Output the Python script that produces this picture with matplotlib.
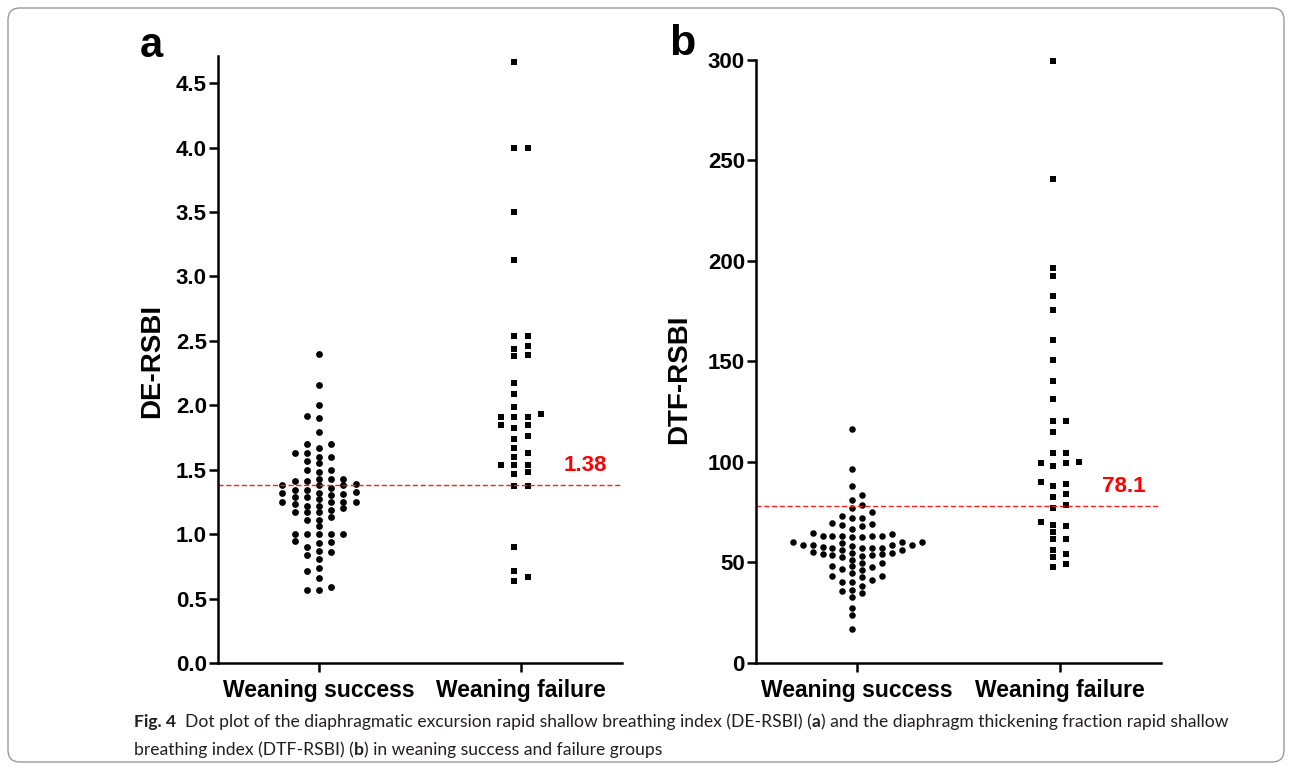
import numpy as np
import matplotlib
matplotlib.use("Agg")
import matplotlib.pyplot as plt
from matplotlib.patches import FancyBboxPatch

plt.rcParams["font.family"] = ["Liberation Sans", "DejaVu Sans"]

# Data
groups = ["Weaning success", "Weaning failure"]

de_success = [2.40, 2.16, 2.00, 1.70, 1.60, 1.48, 1.41, 1.34, 1.29, 1.22, 1.17, 1.11, 1.00, 0.95, 0.90, 0.84, 0.71, 0.66, 0.59,
              1.92, 1.79, 1.67, 1.57, 1.50, 1.43, 1.38, 1.33, 1.27, 1.22, 1.17, 1.11, 1.00, 0.94, 0.87, 0.81, 0.74, 0.57,
              1.90, 1.70, 1.60, 1.55, 1.50, 1.39, 1.34, 1.29, 1.23, 1.17, 1.13, 1.00, 0.93, 0.86, 0.57,
              1.63, 1.43, 1.38, 1.32, 1.25, 1.20, 1.00,
              1.63, 1.43, 1.38, 1.32, 1.25, 1.19, 1.06, 1.00,
              1.41, 1.36, 1.30, 1.25,
              1.31, 1.25]
de_failure = [4.66, 4.00, 3.50, 2.54, 2.46, 2.39, 2.09, 1.91, 1.82, 1.74, 1.63, 1.54, 1.37, 0.90, 0.71, 0.64,
              4.00, 3.13, 2.54, 2.44, 2.38, 2.17, 1.99, 1.91, 1.76, 1.67, 1.60, 1.37, 0.67,
              1.93, 1.85, 1.54, 1.47,
              1.91, 1.85, 1.54, 1.48]
dtf_success = [96.2, 80.9, 77.1, 72.1, 58.5, 55.2, 49.7, 44.9, 40.3, 35.0, 27.4, 24.1, 17.1,
               116.5, 88.2, 83.6, 78.3, 73.3, 69.0, 58.0, 54.7, 51.4, 47.8, 41.1, 36.5, 33.0,
               72.3, 66.6, 63.2, 58.5, 53.6, 49.9, 46.8, 43.3, 40.1, 36.0,
               75.1, 68.8, 63.2, 57.4, 53.4, 46.1, 43.1, 38.5,
               63.2, 57.2, 53.6, 48.1,
               69.5, 63.0, 59.7, 56.0, 52.7, 48.1, 42.9,
               68.3, 64.0, 58.5, 54.1,
               62.5, 57.7, 54.4,
               64.5, 60.2, 56.0,
               63.2, 58.9, 54.7,
               57.2,
               62.5, 57.2,
               60.0, 60.0]
dtf_failure = [299.5, 240.8, 196.6, 182.6, 175.6, 120.2, 115.0, 104.2, 99.2, 90.1, 82.7, 78.3, 68.0, 61.4, 56.0, 52.5, 47.8,
               192.5, 160.5, 150.6, 140.3, 131.4, 120.2, 104.2, 100.0, 88.8, 84.1, 77.1, 68.6, 65.1, 61.4, 54.0, 49.4,
               99.2, 97.8, 88.1, 70.1]

de_cutoff = 1.38
dtf_cutoff = 78.1
de_cutoff_label = "1.38"
dtf_cutoff_label = "78.1"

caption_line1 = [("Fig. 4", "bold"),
                 ("  Dot plot of the diaphragmatic excursion rapid shallow breathing index (DE-RSBI) (", "normal"),
                 ("a", "bold"),
                 (") and the diaphragm thickening fraction rapid shallow", "normal")]
caption_line2 = [("breathing index (DTF-RSBI) (", "normal"),
                 ("b", "bold"),
                 (") in weaning success and failure groups", "normal")]


def swarm_columns(values, gap, half):
    # greedy dot-plot layout: put each point in the closest free column
    values = np.asarray(values, dtype=float)
    if half:
        cands = [s * (k + 0.5) for k in range(20) for s in (-1, 1)]
    else:
        cands = [0.0] + [s * k for k in range(1, 20) for s in (-1, 1)]
    placed = {}
    cols = np.zeros(len(values))
    for i in np.argsort(values, kind="stable"):
        v = values[i]
        for c in cands:
            if all(abs(v - y) >= gap for y in placed.get(c, [])):
                placed.setdefault(c, []).append(v)
                cols[i] = c
                break
    return cols


def dot_panel(ax, success, failure, gap, steps, halves, sizes):
    for pos, vals, step, half, marker, ms in zip((1, 2), (success, failure), steps, halves, ("o", "s"), sizes):
        cols = swarm_columns(vals, gap, half)
        ax.plot(pos + cols * step, vals, linestyle="none", marker=marker,
                markersize=ms, color="black", markeredgewidth=0, clip_on=False)
    ax.set_xlim(0.5, 2.5)
    ax.set_xticks([1, 2])
    ax.set_xticklabels(groups, fontsize=16.5, fontweight="bold")
    for side in ("top", "right"):
        ax.spines[side].set_visible(False)
    for side in ("left", "bottom"):
        ax.spines[side].set_linewidth(1.8)
    ax.tick_params(axis="both", direction="out", width=1.8, length=6.5, color="black")
    ax.tick_params(axis="y", labelsize=16, pad=1.5)
    ax.tick_params(axis="x", pad=5)


def cutoff_line(ax, value, label):
    ax.axhline(value, color="#ff1a1a", linewidth=1.0, dashes=(3.6, 2.0))
    ax.annotate(label, xy=(2.21, value), xytext=(0, 10), textcoords="offset points",
                color="#ff0000", fontsize=16, fontweight="bold", ha="left", va="baseline")


def rich_line(fig, x, y, pieces, **kw):
    renderer = fig.canvas.get_renderer()
    for text, weight in pieces:
        t = fig.text(x, y, text, fontweight=weight, va="baseline", **kw)
        x += t.get_window_extent(renderer).width / fig.bbox.width


if __name__ == "__main__":
    fig = plt.figure(figsize=(12.92, 7.70), dpi=100)

    # outer rounded frame
    frame = FancyBboxPatch((0.08, 0.08), 12.76, 7.54, boxstyle="round,pad=0,rounding_size=0.12",
                           transform=fig.dpi_scale_trans, facecolor="none", edgecolor="#9a9a9a", linewidth=1.0)
    fig.patches.append(frame)

    # panel a
    ax1 = fig.add_axes([218 / 1292, 107 / 770, 404 / 1292, 607 / 770])
    dot_panel(ax1, de_success, de_failure, 0.05, (0.0604, 0.065), (False, True), (4.9, 4.4))
    ax1.set_ylim(0, 4.71)
    ax1.set_yticks(np.arange(0, 4.51, 0.5))
    ax1.set_yticklabels([f"{v:.1f}" for v in np.arange(0, 4.51, 0.5)])
    ax1.set_ylabel("DE-RSBI", fontsize=20, fontweight="bold", va="center")
    ax1.yaxis.set_label_coords(-0.162, 0.4975)
    cutoff_line(ax1, de_cutoff, de_cutoff_label)
    for t in ax1.get_yticklabels():
        t.set_fontweight("bold")

    # panel b
    ax2 = fig.add_axes([756 / 1292, 107 / 770, 405 / 1292, 603.5 / 770])
    dot_panel(ax2, dtf_success, dtf_failure, 3.2, (0.049, 0.0626), (True, True), (4.7, 4.5))
    ax2.set_ylim(0, 300)
    ax2.set_yticks(np.arange(0, 301, 50))
    ax2.set_ylabel("DTF-RSBI", fontsize=20, fontweight="bold", va="center")
    ax2.yaxis.set_label_coords(-0.19, 0.47)
    cutoff_line(ax2, dtf_cutoff, dtf_cutoff_label)
    for t in ax2.get_yticklabels():
        t.set_fontweight("bold")

    fig.text(140 / 1292, 1 - 57 / 770, "a", fontsize=30, fontweight="bold", va="baseline", ha="left")
    fig.text(669 / 1292, 1 - 55 / 770, "b", fontsize=31, fontweight="bold", va="baseline", ha="left")

    # caption
    cap_kw = dict(fontsize=12.6, family=["Lato", "DejaVu Sans"], color="#231f20")
    rich_line(fig, 134 / 1292, 1 - 727 / 770, caption_line1, **cap_kw)
    rich_line(fig, 134 / 1292, 1 - 755 / 770, caption_line2, **cap_kw)

    fig.savefig("out.png", dpi=100)
